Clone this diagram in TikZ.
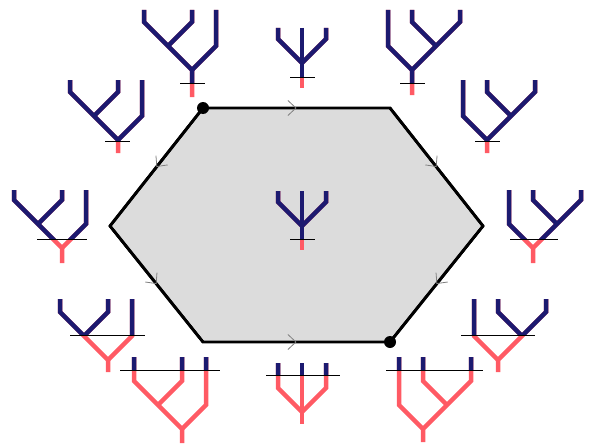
\documentclass[tikz,border=0pt]{standalone}
\usepackage{xcolor}
\usepackage{tikz}
\usetikzlibrary{arrows.meta, decorations.markings}
\definecolor{treeblue}{RGB}{28, 26, 112}
\definecolor{treered}{RGB}{255, 90, 100}
\definecolor{facegray}{RGB}{220, 220, 220}
\tikzstyle{bluepart} = [draw=treeblue, line width=4.5pt]
\tikzstyle{redpart} = [draw=treered, line width=4.5pt]
\tikzstyle{cutline} = [draw=black, line width=0.8pt]
\tikzstyle{hexface} = [draw=black, fill=facegray, line width=2.8pt]
\tikzstyle{hexedge} = [draw=black, line width=2.8pt, postaction={decorate}, decoration={markings, mark=at position 0.5 with {\arrow[gray, line width=0.8pt]{Straight Barb[length=8pt, width=15pt]}}}]
\tikzstyle{vertexdot} = [circle, fill=black, inner sep=0pt, minimum size=12pt]
% tree shapes, root at (0,0): #1 style, #2 leaf top, #3 root bottom
\newcommand{\shapeL}[3]{%
  \draw[#1] (-48,#2) -- (-48,-48) -- (-24,-24) -- (0,0) -- (0,#3);
  \draw[#1] (0,#2) -- (0,-48) -- (-24,-24);
  \draw[#1] (24,#2) -- (24,-24) -- (0,0);}
\newcommand{\shapeR}[3]{%
  \draw[#1] (48,#2) -- (48,-48) -- (24,-24) -- (0,0) -- (0,#3);
  \draw[#1] (0,#2) -- (0,-48) -- (24,-24);
  \draw[#1] (-24,#2) -- (-24,-24) -- (0,0);}
\newcommand{\shapeC}[3]{%
  \draw[#1] (0,#2) -- (0,#3);
  \draw[#1] (-24,#2) -- (-24,-24) -- (0,0);
  \draw[#1] (24,#2) -- (24,-24) -- (0,0);}
% painted tree: #1 shape, #2 #3 root, #4 top, #5 bottom, #6 cut, #7 #8 cut ends
\newcommand{\ptree}[8]{%
  \begin{scope}[shift={(#2,#3)}]
    #1{redpart}{#4}{#5}
    \begin{scope}
      \clip (-70,#4-2) rectangle (70,#6);
      #1{bluepart}{#4}{#5}
    \end{scope}
    \draw[cutline] (#7,#6) -- (#8,#6);
  \end{scope}}

\begin{document}
\begin{tikzpicture}[x=1pt, y=-1pt]
    \useasboundingbox (0,0) rectangle (596,444);

    % Hexagon
    \coordinate (A) at (203,108);
    \coordinate (B) at (390,108);
    \coordinate (C) at (483,226);
    \coordinate (D) at (390,342);
    \coordinate (E) at (203,342);
    \coordinate (F) at (110,226);
    \draw[hexface] (A) -- (B) -- (C) -- (D) -- (E) -- (F) -- cycle;

    % Oriented edges
    \draw[hexedge] (A) -- (B);
    \draw[hexedge] (B) -- (C);
    \draw[hexedge] (C) -- (D);
    \draw[hexedge] (A) -- (F);
    \draw[hexedge] (F) -- (E);
    \draw[hexedge] (E) -- (D);

    % Source and sink
    \node[vertexdot] (source) at (A) {};
    \node[vertexdot] (sink) at (D) {};

    % Centre tree
    \ptree{\shapeC}{302}{226}{-35}{24}{13}{-12}{13}

    % Top row
    \ptree{\shapeL}{192}{70}{-60}{27}{13}{-12}{13}
    \ptree{\shapeC}{302}{63}{-35}{25}{14}{-12}{13}
    \ptree{\shapeR}{412}{70}{-60}{25}{13}{-12}{13}

    % Upper sides
    \ptree{\shapeL}{118}{140}{-60}{13}{1}{-13}{12}
    \ptree{\shapeR}{487}{140}{-60}{13}{1}{-12}{13}

    % Middle sides
    \ptree{\shapeL}{62}{248}{-58}{15}{-9}{-25}{25}
    \ptree{\shapeR}{533}{248}{-58}{15}{-9}{-23}{25}

    % Lower sides
    \ptree{\shapeL}{108}{360}{-61}{12}{-25}{-38}{37}
    \ptree{\shapeR}{498}{360}{-61}{12}{-25}{-37}{37}

    % Bottom row
    \ptree{\shapeL}{182}{429}{-72}{14}{-59}{-62}{38}
    \ptree{\shapeC}{302}{412}{-49}{12}{-37}{-36}{38}
    \ptree{\shapeR}{423}{429}{-72}{13}{-59}{-37}{60}
\end{tikzpicture}
\end{document}
